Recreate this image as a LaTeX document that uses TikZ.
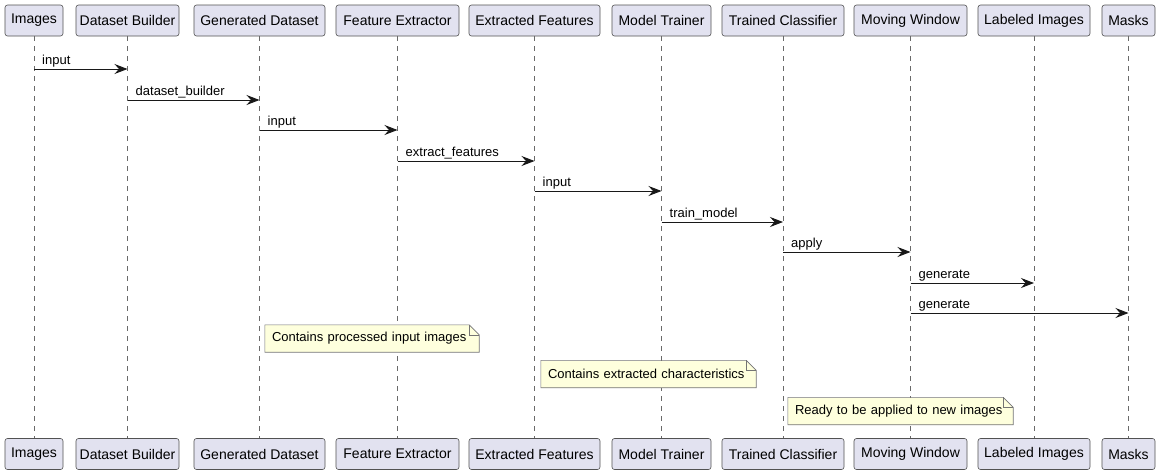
\documentclass[tikz,border=0pt]{standalone}
\usepackage{fontspec}
\setmainfont{Liberation Sans}
\usetikzlibrary{arrows.meta}
\definecolor{partfill}{HTML}{E2E2F0}
\definecolor{partdraw}{HTML}{181818}
\definecolor{notefill}{HTML}{FEFFDD}
\tikzset{
  part/.style={draw=partdraw!75, fill=partfill, rounded corners=2.5pt, line width=0.6pt,
    minimum height=31pt, inner sep=0pt, font=\fontsize{14}{16}\selectfont},
  life/.style={draw=partdraw!65, line width=0.6pt, dash pattern=on 5pt off 5pt},
  msg/.style={draw=partdraw, line width=0.9pt, -{Stealth[length=13pt,width=10pt,inset=4.5pt]}},
  lbl/.style={font=\fontsize{13}{15}\selectfont, anchor=base west, inner sep=0pt},
  notebox/.style={fill=notefill, minimum height=27pt, inner xsep=7pt, inner ysep=0pt,
    align=left, font=\fontsize{13}{15}\selectfont},
  noteline/.style={draw=partdraw!60, line width=0.6pt, line join=miter},
}
\begin{document}
\begin{tikzpicture}[x=1pt,y=-1pt]
\useasboundingbox[fill=white] (0,0) rectangle (1160,475);
% participants top and bottom
\foreach \n/\t/\l/\r in {img/Images/5/63, db/Dataset Builder/76/179, gd/Generated Dataset/194/325,
    fe/Feature Extractor/336/459, ef/Extracted Features/469/600, mt/Model Trainer/612/711,
    tc/Trained Classifier/722/844, mw/Moving Window/854/967, li/Labeled Images/978/1090,
    mk/Masks/1102/1155}{
  \draw[life] ({(\l+\r)/2},36) -- ({(\l+\r)/2},438);
  \node[part, minimum width={\r-\l}] (\n T) at ({(\l+\r)/2},20.5) {\t};
  \node[part, minimum width={\r-\l}] (\n B) at ({(\l+\r)/2},454) {\t};
}
% messages
\foreach \a/\b/\y/\t in {img/db/69/input, db/gd/100/dataset\_builder, gd/fe/130/input,
    fe/ef/161/extract\_features, ef/mt/191/input, mt/tc/222/train\_model, tc/mw/252/apply,
    mw/li/283/generate, mw/mk/313/generate}{
  \draw[msg] (\a T.south |- 0,\y) -- (\b T.south |- 0,\y);
  \node[lbl] (lab\a\b) at ([xshift=8pt,yshift=4.5pt]\a T.south |- 0,\y) {\t};
}
% notes
\foreach \n/\cx/\cy/\w/\t in {n1/372/338.5/214/Contains processed input images,
    n2/648.5/374/215/Contains extracted characteristics,
    n3/900.5/411/225/Ready to be applied to new images}{
  \node[notebox, text width={\w-14}] (\n) at (\cx,\cy) {\t};
  \fill[white] ([xshift=-10pt]\n.north east) -- (\n.north east) -- ([yshift=-10pt]\n.north east) -- cycle;
  \draw[noteline] (\n.south west) -- (\n.north west) -- ([xshift=-10pt]\n.north east)
    -- ([yshift=-10pt]\n.north east) -- (\n.south east) -- cycle;
  \draw[noteline] ([xshift=-10pt]\n.north east) -- ([xshift=-10pt,yshift=-10pt]\n.north east)
    -- ([yshift=-10pt]\n.north east);
}
\end{tikzpicture}
\end{document}
